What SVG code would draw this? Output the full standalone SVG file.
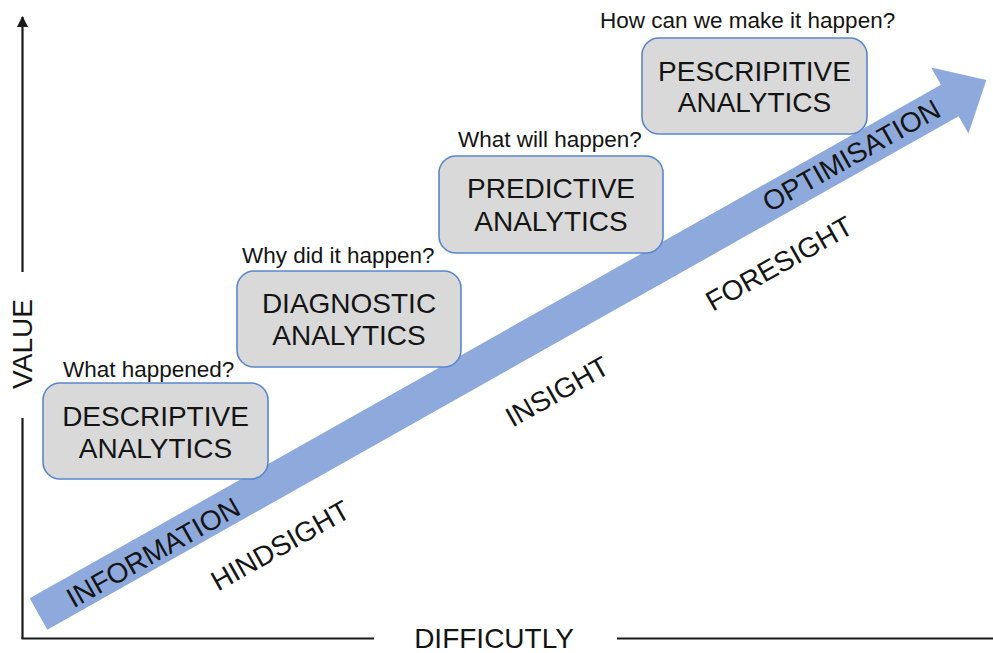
<svg xmlns="http://www.w3.org/2000/svg" width="993" height="653" viewBox="0 0 993 653">
  <style>
    text { font-family: "Liberation Sans", Arial, sans-serif; fill: #141414; }
    .box { fill: #d9d9d9; stroke: #5b86cc; stroke-width: 1.6; }
    .title { font-size: 28px; text-anchor: middle; }
    .q { font-size: 22.5px; }
    .stage { font-size: 28px; text-anchor: middle; }
    .axis { stroke: #1a1a1a; stroke-width: 2.2; fill: none; }
    .axislabel { font-size: 28px; text-anchor: middle; }
  </style>
  <defs>
    <marker id="axisHead" viewBox="0 0 10 10" refX="9" refY="5" markerWidth="5" markerHeight="5" orient="auto">
      <path d="M0,0 L10,5 L0,10 Z" fill="#1a1a1a"/>
    </marker>
  </defs>

  <rect width="993" height="653" fill="#ffffff"/>

  <!-- axes -->
  <g id="axes">
    <line class="axis" x1="22.5" y1="272" x2="22.5" y2="17" marker-end="url(#axisHead)"/>
    <line class="axis" x1="22.5" y1="418" x2="22.5" y2="639"/>
    <line class="axis" x1="21.5" y1="638.5" x2="374" y2="638.5"/>
    <line class="axis" x1="617" y1="638.5" x2="993" y2="638.5"/>
    <text class="axislabel" transform="translate(32,344) rotate(-90)">VALUE</text>
    <text class="axislabel" x="494" y="648">DIFFICUTLY</text>
  </g>

  <!-- connectors: the rising progression arrow -->
  <g id="connectors">
    <path transform="translate(38.5,614) rotate(-29.4)" d="M0,-18 L1046,-18 L1046,-38 L1088,0 L1046,38 L1046,18 L0,18 Z" fill="#8eaadc"/>
  </g>

  <!-- labels along the arrow -->
  <g id="stages">
    <text class="stage" transform="translate(158,561) rotate(-29.4)">INFORMATION</text>
    <text class="stage" transform="translate(285,554) rotate(-29.4)">HINDSIGHT</text>
    <text class="stage" transform="translate(562,400) rotate(-29.4)">INSIGHT</text>
    <text class="stage" transform="translate(784,272) rotate(-29.4)">FORESIGHT</text>
    <text class="stage" transform="translate(856,164) rotate(-29.4)">OPTIMISATION</text>
  </g>

  <g id="descriptive">
    <text class="q" x="63" y="377">What happened?</text>
    <rect class="box" x="43" y="383" width="225" height="96" rx="17"/>
    <text class="title" x="155.5" y="426">DESCRIPTIVE</text>
    <text class="title" x="155.5" y="458">ANALYTICS</text>
  </g>

  <g id="diagnostic">
    <text class="q" x="242" y="263">Why did it happen?</text>
    <rect class="box" x="237" y="271" width="224" height="96" rx="17"/>
    <text class="title" x="349" y="313">DIAGNOSTIC</text>
    <text class="title" x="349" y="345">ANALYTICS</text>
  </g>

  <g id="predictive">
    <text class="q" x="458" y="147">What will happen?</text>
    <rect class="box" x="439" y="156" width="224" height="97" rx="17"/>
    <text class="title" x="551" y="198">PREDICTIVE</text>
    <text class="title" x="551" y="231">ANALYTICS</text>
  </g>

  <g id="prescriptive">
    <text class="q" x="600" y="28">How can we make it happen?</text>
    <rect class="box" x="642" y="38" width="225" height="96" rx="17"/>
    <text class="title" x="754.5" y="81">PESCRIPITIVE</text>
    <text class="title" x="754.5" y="112">ANALYTICS</text>
  </g>
</svg>
